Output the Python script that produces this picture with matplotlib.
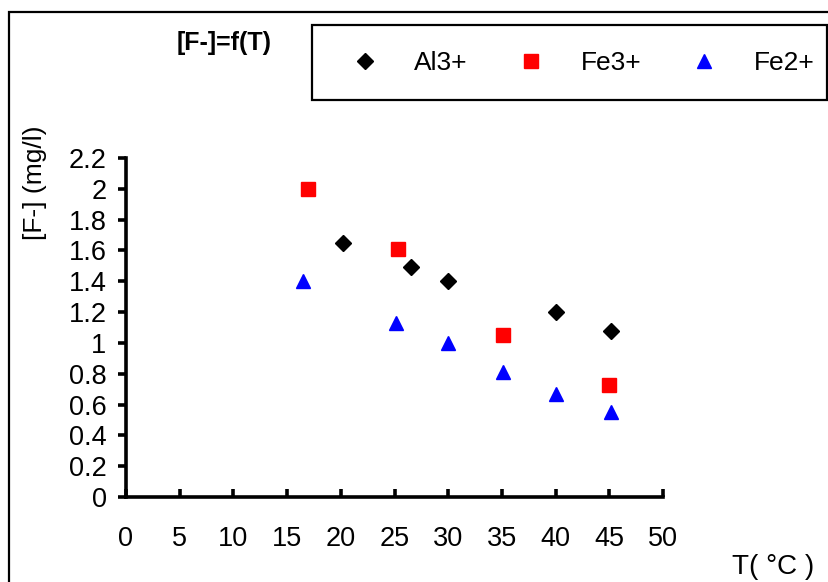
import numpy as np
import matplotlib
matplotlib.use('Agg')
import matplotlib.pyplot as plt
from matplotlib.patches import Rectangle

plt.rcParams['font.family'] = ['Liberation Sans', 'DejaVu Sans']

# data
al_t = [20.2, 26.5, 30.0, 40.0, 45.2]
al_f = [1.65, 1.49, 1.40, 1.20, 1.08]
fe3_t = [16.9, 25.3, 35.1, 45.0]
fe3_f = [2.00, 1.61, 1.05, 0.73]
fe2_t = [16.5, 25.1, 30.0, 35.1, 40.0, 45.2]
fe2_f = [1.40, 1.13, 1.00, 0.81, 0.67, 0.55]

x_ticks = np.arange(0, 51, 5)
y_ticks = np.round(np.arange(0, 2.21, 0.2), 1)
y_labels = ['0' if v == 0 else ('%g' % v) for v in y_ticks]

W, H = 829, 582
fig = plt.figure(figsize=(W / 100, H / 100), dpi=100)
ax = fig.add_axes([126 / W, 1 - 497 / H, (663 - 126) / W, (497 - 158) / H])

ax.plot(al_t, al_f, 'D', color='black', ms=8, ls='none', label='Al3+')
ax.plot(fe3_t, fe3_f, 's', color='#ff0000', ms=9.5, ls='none', label='Fe3+')
ax.plot(fe2_t, fe2_f, '^', color='#0000ff', ms=10.5, ls='none', label='Fe2+')

ax.set_xlim(0, 50)
ax.set_ylim(0, 2.2)
ax.set_xticks(x_ticks)
ax.set_yticks(y_ticks)
ax.set_yticklabels(y_labels)
for s in ['top', 'right']:
    ax.spines[s].set_visible(False)
for s in ['left', 'bottom']:
    ax.spines[s].set_linewidth(2.6)
ax.tick_params(axis='x', direction='in', length=6, width=2.6, pad=21, labelsize=19.5)
ax.tick_params(axis='y', direction='out', length=6, width=2.6, pad=8, labelsize=19.5)

# outer frame and legend box (legend box is cut at the right edge)
fig.patches.append(Rectangle((9 / W, -0.1), 1.2, 1.1 - 12 / H, transform=fig.transFigure,
                             fill=False, ec='black', lw=1.6, clip_on=False))
fig.patches.append(Rectangle((312 / W, 1 - 100 / H), (827 - 312) / W, 75 / H,
                             transform=fig.transFigure, fill=False, ec='black', lw=1.6,
                             clip_on=False, zorder=5))

fig.legend(loc='center left', bbox_to_anchor=(328 / W, 1 - 63 / H), ncol=3,
           frameon=False, fontsize=19, handletextpad=0.87, columnspacing=1.4,
           handlelength=2, borderaxespad=0)

fig.text(224 / W, 1 - 43 / H, '[F-]=f(T)', fontsize=18, fontweight='bold',
         ha='center', va='center')
fig.text(35 / W, 1 - 183 / H, '[F-] (mg/l)', fontsize=19, rotation=90,
         ha='center', va='center')
fig.text(773 / W, 1 - 567 / H, 'T( °C )', fontsize=20, ha='center', va='center')

fig.savefig('out.png', dpi=100)
